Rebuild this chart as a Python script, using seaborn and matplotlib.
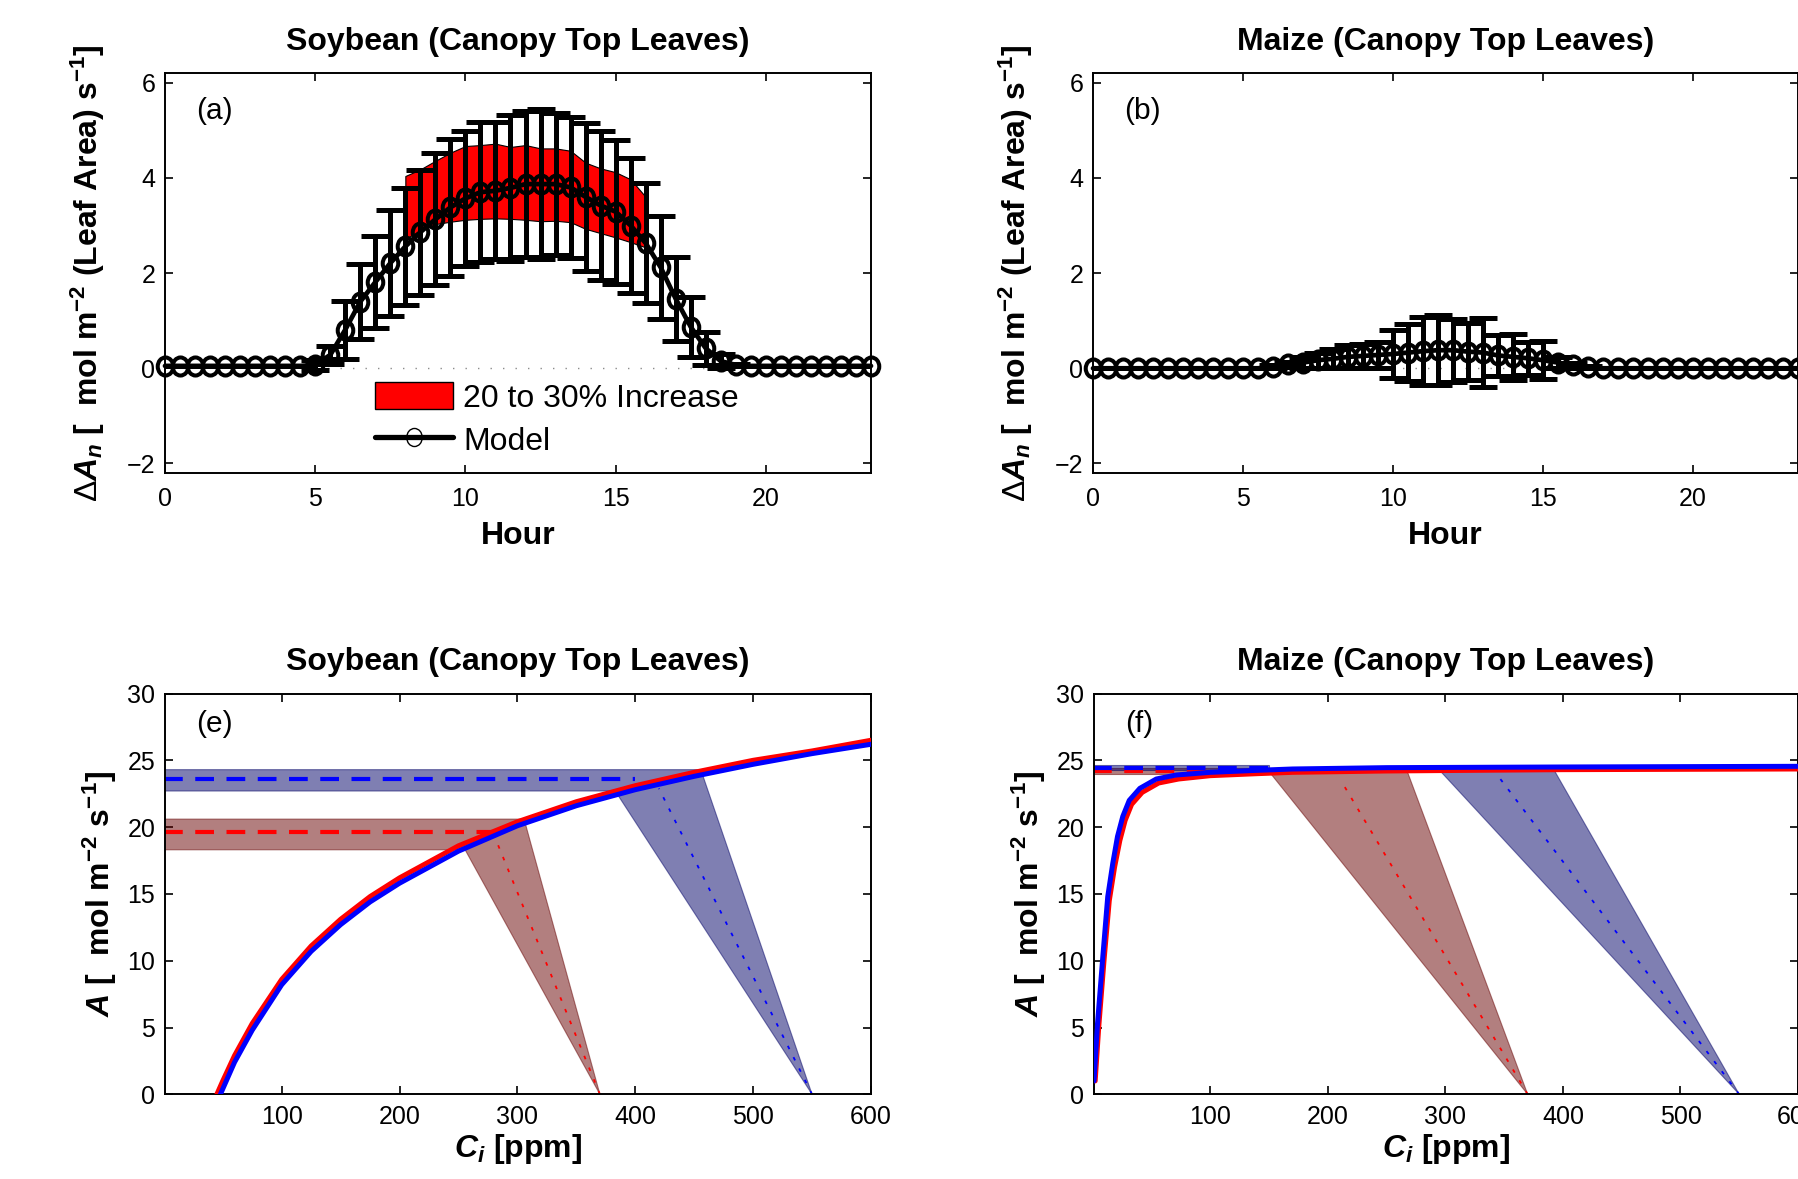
import numpy as np
import matplotlib
matplotlib.use("Agg")
import matplotlib.pyplot as plt
import seaborn as sns
from matplotlib.path import Path
from matplotlib.transforms import Affine2D
from matplotlib.patches import Patch
from matplotlib.lines import Line2D

# ---------------- data ----------------
hours = np.arange(0, 24, 0.5)

soy_model = [0.05] * 10 + [0.07, 0.28, 0.81, 1.40, 1.81, 2.21, 2.56, 2.86, 3.13, 3.38,
                           3.57, 3.70, 3.73, 3.79, 3.87, 3.87, 3.87, 3.80, 3.60, 3.42,
                           3.29, 3.00, 2.63, 2.12, 1.46, 0.87, 0.42, 0.15, 0.07] + [0.05] * 9
soy_err = [0.0] * 10 + [0.10, 0.18, 0.61, 0.79, 0.97, 1.12, 1.23, 1.31, 1.39, 1.44,
                        1.42, 1.47, 1.44, 1.54, 1.53, 1.57, 1.50, 1.48, 1.56, 1.57,
                        1.51, 1.41, 1.26, 1.08, 0.88, 0.63, 0.35, 0.15, 0.03] + [0.0] * 9

band_hours = [8.0, 8.5, 9.0, 9.5, 10.0, 10.5, 11.0, 11.5, 12.0, 12.5, 13.0, 13.5,
              14.0, 14.5, 15.0, 15.5, 16.0]
band_hi = [4.04, 4.18, 4.36, 4.53, 4.67, 4.69, 4.72, 4.65, 4.69, 4.62, 4.62, 4.57,
           4.32, 4.20, 4.12, 3.97, 3.60]
band_lo = [2.72, 2.90, 3.03, 3.08, 3.12, 3.14, 3.15, 3.14, 3.12, 3.09, 3.10, 3.07,
           2.93, 2.84, 2.75, 2.65, 2.54]

maize_model = [0.0] * 12 + [0.03, 0.08, 0.12, 0.17, 0.20, 0.24, 0.26, 0.28, 0.30, 0.33,
                            0.36, 0.38, 0.38, 0.35, 0.33, 0.27, 0.24, 0.21, 0.17, 0.12,
                            0.06, 0.03] + [0.0] * 14
maize_err = [0.0] * 12 + [0.03, 0.06, 0.12, 0.16, 0.20, 0.24, 0.26, 0.28, 0.51, 0.60,
                          0.72, 0.73, 0.66, 0.60, 0.72, 0.43, 0.48, 0.35, 0.40, 0.12,
                          0.05, 0.02] + [0.0] * 14

soy_zero_line = [5.0, 18.5]
maize_zero_line = [9.9, 15.1]

soy_ci_red = [45, 50, 60, 75, 100, 125, 150, 175, 200, 250, 300, 350, 400, 450, 500, 550, 600]
soy_A_red = [0.0, 1.0, 2.9, 5.3, 8.6, 11.1, 13.1, 14.8, 16.2, 18.6, 20.4, 21.9, 23.1, 24.1, 25.0, 25.7, 26.5]
soy_ci_blue = [48, 50, 60, 75, 100, 125, 150, 175, 200, 250, 300, 350, 400, 450, 500, 550, 600]
soy_A_blue = [0.0, 0.4, 2.4, 4.8, 8.2, 10.7, 12.7, 14.4, 15.8, 18.2, 20.1, 21.6, 22.8, 23.8, 24.7, 25.5, 26.2]

soy_red_band_x = [0, 0, 304, 250]
soy_red_band_y = [18.3, 20.6, 20.6, 18.3]
soy_blue_band_x = [0, 0, 458, 384]
soy_blue_band_y = [22.7, 24.3, 24.3, 22.7]
soy_red_tri_x = [370, 255, 306]
soy_red_tri_y = [0, 18.4, 20.5]
soy_blue_tri_x = [550, 383, 456]
soy_blue_tri_y = [0, 22.7, 24.2]
soy_red_dash_x, soy_red_dash_y = [0, 280], [19.6, 19.6]
soy_blue_dash_x, soy_blue_dash_y = [0, 400], [23.6, 23.6]
soy_red_dot_x, soy_red_dot_y = [370, 282], [0, 19.0]
soy_blue_dot_x, soy_blue_dot_y = [550, 420], [0, 22.9]

maize_ci_blue = [1, 4, 8.5, 12.7, 17, 21, 25.5, 31, 40, 54, 71, 100, 140, 170, 250, 400, 600]
maize_A_blue = [1.0, 5.3, 10.3, 14.8, 17.3, 19.3, 20.8, 22.0, 22.9, 23.6, 23.9, 24.1, 24.25, 24.35, 24.45, 24.5, 24.55]
maize_ci_red = [2, 5, 9.5, 14, 18.5, 23, 27.5, 33, 42, 56, 73, 100, 140, 170, 250, 400, 600]
maize_A_red = [1.0, 5.0, 10.0, 14.5, 17.0, 19.0, 20.5, 21.7, 22.6, 23.3, 23.6, 23.85, 24.0, 24.1, 24.2, 24.3, 24.35]

maize_red_band_x = [0, 0, 150, 150]
maize_red_band_y = [24.0, 24.4, 24.4, 24.0]
maize_blue_band_x = [0, 0, 150, 150]
maize_blue_band_y = [24.25, 24.65, 24.65, 24.25]
maize_red_tri_x = [370, 150, 267]
maize_red_tri_y = [0, 24.15, 24.3]
maize_blue_tri_x = [550, 294, 391]
maize_blue_tri_y = [0, 24.35, 24.5]
maize_red_dash_x, maize_red_dash_y = [0, 150], [24.2, 24.2]
maize_blue_dash_x, maize_blue_dash_y = [0, 150], [24.45, 24.45]
maize_red_dot_x, maize_red_dot_y = [370, 211], [0, 23.5]
maize_blue_dot_x, maize_blue_dot_y = [550, 345], [0, 23.8]

hour_ticks = [0, 5, 10, 15, 20]
an_ticks = [-2, 0, 2, 4, 6]
ci_ticks = [100, 200, 300, 400, 500, 600]
a_ticks = [0, 5, 10, 15, 20, 25, 30]

# ---------------- style ----------------
sns.set_theme(style="ticks")
plt.rcParams["font.family"] = ["Liberation Sans", "DejaVu Sans"]
plt.rcParams["mathtext.fontset"] = "custom"
plt.rcParams["mathtext.rm"] = "Liberation Sans"
plt.rcParams["mathtext.it"] = "Liberation Sans:italic:bold"
plt.rcParams["mathtext.bf"] = "Liberation Sans:bold"
plt.rcParams["axes.edgecolor"] = "black"
plt.rcParams["axes.labelcolor"] = "black"
plt.rcParams["text.color"] = "black"
plt.rcParams["axes.titlecolor"] = "black"
plt.rcParams["axes.linewidth"] = 1.4
plt.rcParams["xtick.color"] = "black"
plt.rcParams["ytick.color"] = "black"

TICK_FS = 18
LAB_FS = 23
TITLE_FS = 23

ell = Path.unit_circle().transformed(Affine2D().scale(0.86, 1.0))

RED_FILL = (0.40, 0.0, 0.0)
BLUE_FILL = (0.0, 0.0, 0.40)

fig = plt.figure(figsize=(17.99, 11.79), dpi=100)
W, H = 1799.0, 1179.0


def px_axes(x0, x1, ytop, ybot):
    return fig.add_axes([x0 / W, 1 - ybot / H, (x1 - x0) / W, (ybot - ytop) / H])


ax_a = px_axes(165, 871, 73.2, 473.0)
ax_b = px_axes(1093, 1798, 73.2, 473.0)
ax_e = px_axes(165, 871, 693.5, 1094.3)
ax_f = px_axes(1094, 1798, 693.5, 1094.3)

an_label = (r"$\Delta\mathit{A}_{\mathit{n}}$ [  mol m$^{\mathbf{-2}}$ "
            r"(Leaf Area) s$^{\mathbf{-1}}$]")
a_label = r"$\mathit{A}$ [  mol m$^{\mathbf{-2}}$ s$^{\mathbf{-1}}$]"
ci_label = r"$\mathit{C}_{\mathit{i}}$ [ppm]"


def style_axes(ax, xpad):
    ax.tick_params(direction="in", top=True, right=True, length=6, width=1.2,
                   labelsize=TICK_FS, colors="black")
    ax.tick_params(axis="x", pad=xpad)
    ax.tick_params(axis="y", pad=7)
    for s in ax.spines.values():
        s.set_visible(True)
        s.set_color("black")
        s.set_linewidth(1.4)


def hour_panel(ax, model, err, zero_line, title, tag):
    ax.plot(zero_line, [0, 0], color="0.55", lw=1.0, ls=(0, (1, 8)), zorder=1)
    ax.errorbar(hours, model, yerr=err, fmt="none", ecolor="black", elinewidth=3.6,
                capsize=10, capthick=3.6, zorder=3)
    ax.plot(hours, model, color="black", lw=3.4, marker=ell, ms=13, mfc="none",
            mec="black", mew=2.9, zorder=4, clip_on=False)
    ax.set_xlim(0, 23.5)
    ax.set_ylim(-2.2, 6.2)
    ax.set_xticks(hour_ticks)
    ax.set_yticks(an_ticks)
    ax.set_xticklabels([str(v) for v in hour_ticks])
    ax.set_yticklabels(["\u22122" if v < 0 else str(v) for v in an_ticks])
    ax.set_xlabel("Hour", fontsize=LAB_FS, fontweight="bold", labelpad=7)
    ax.set_ylabel(an_label, fontsize=LAB_FS, fontweight="bold", labelpad=14)
    ax.set_title(title, fontsize=TITLE_FS, fontweight="bold", pad=17)
    ax.text(0.044, 0.906, tag, transform=ax.transAxes, fontsize=21.5,
            ha="left", va="center")
    style_axes(ax, 10)


def ci_panel(ax, d, title, tag):
    ax.fill(d["rbx"], d["rby"], facecolor=RED_FILL, edgecolor=RED_FILL, alpha=0.5, lw=0.8, zorder=1)
    ax.fill(d["bbx"], d["bby"], facecolor=BLUE_FILL, edgecolor=BLUE_FILL, alpha=0.5, lw=0.8, zorder=1)
    ax.fill(d["rtx"], d["rty"], facecolor=RED_FILL, edgecolor=RED_FILL, alpha=0.5, lw=0.8, zorder=1)
    ax.fill(d["btx"], d["bty"], facecolor=BLUE_FILL, edgecolor=BLUE_FILL, alpha=0.5, lw=0.8, zorder=1)
    ax.plot(d["rdotx"], d["rdoty"], color="red", lw=1.3, ls=(0, (2, 5)), zorder=2)
    ax.plot(d["bdotx"], d["bdoty"], color="blue", lw=1.3, ls=(0, (2, 5)), zorder=2)
    ax.plot(d["rdx"], d["rdy"], color="red", lw=3, ls=(0, (4.5, 3)), zorder=2)
    ax.plot(d["bdx"], d["bdy"], color="blue", lw=3, ls=(0, (4.5, 3)), zorder=2)
    sns.lineplot(x=d["rcx"], y=d["rcy"], color="red", lw=3.6, ax=ax, sort=False,
                 estimator=None, zorder=3)
    sns.lineplot(x=d["bcx"], y=d["bcy"], color="blue", lw=3.6, ax=ax, sort=False,
                 estimator=None, zorder=3)
    ax.set_xlim(1, 600)
    ax.set_ylim(0, 30)
    ax.set_xticks(ci_ticks)
    ax.set_yticks(a_ticks)
    ax.set_xticklabels([str(v) for v in ci_ticks])
    ax.set_yticklabels([str(v) for v in a_ticks])
    ax.set_xlabel(ci_label, fontsize=LAB_FS, fontweight="bold", labelpad=2)
    ax.set_ylabel(a_label, fontsize=LAB_FS, fontweight="bold", labelpad=6)
    ax.set_title(title, fontsize=TITLE_FS, fontweight="bold", pad=17)
    ax.text(0.044, 0.925, tag, transform=ax.transAxes, fontsize=21.5,
            ha="left", va="center")
    style_axes(ax, 8)


# ---------------- panels ----------------
ax_a.fill_between(band_hours, band_lo, band_hi, facecolor="red", edgecolor="black",
                  lw=0.8, zorder=2)
hour_panel(ax_a, soy_model, soy_err, soy_zero_line, "Soybean (Canopy Top Leaves)", "(a)")
hour_panel(ax_b, maize_model, maize_err, maize_zero_line, "Maize (Canopy Top Leaves)", "(b)")

leg_handles = [Patch(facecolor="red", edgecolor="black", lw=1.0),
               Line2D([0], [0], color="black", lw=3.8, marker=ell, ms=13, mfc="none",
                      mec="black", mew=1.0)]
ax_a.legend(leg_handles, ["20 to 30% Increase", "Model"], loc="upper left",
            bbox_to_anchor=(0.2975, 0.228), frameon=False, fontsize=23,
            handlelength=2.45, handleheight=0.95, handletextpad=0.3,
            labelspacing=0.36, borderpad=0, borderaxespad=0)

soy_d = dict(rbx=soy_red_band_x, rby=soy_red_band_y, bbx=soy_blue_band_x, bby=soy_blue_band_y,
             rtx=soy_red_tri_x, rty=soy_red_tri_y, btx=soy_blue_tri_x, bty=soy_blue_tri_y,
             rdotx=soy_red_dot_x, rdoty=soy_red_dot_y, bdotx=soy_blue_dot_x, bdoty=soy_blue_dot_y,
             rdx=soy_red_dash_x, rdy=soy_red_dash_y, bdx=soy_blue_dash_x, bdy=soy_blue_dash_y,
             rcx=soy_ci_red, rcy=soy_A_red, bcx=soy_ci_blue, bcy=soy_A_blue)
maize_d = dict(rbx=maize_red_band_x, rby=maize_red_band_y, bbx=maize_blue_band_x, bby=maize_blue_band_y,
               rtx=maize_red_tri_x, rty=maize_red_tri_y, btx=maize_blue_tri_x, bty=maize_blue_tri_y,
               rdotx=maize_red_dot_x, rdoty=maize_red_dot_y, bdotx=maize_blue_dot_x, bdoty=maize_blue_dot_y,
               rdx=maize_red_dash_x, rdy=maize_red_dash_y, bdx=maize_blue_dash_x, bdy=maize_blue_dash_y,
               rcx=maize_ci_red, rcy=maize_A_red, bcx=maize_ci_blue, bcy=maize_A_blue)

ci_panel(ax_e, soy_d, "Soybean (Canopy Top Leaves)", "(e)")
ci_panel(ax_f, maize_d, "Maize (Canopy Top Leaves)", "(f)")

fig.savefig("out.png", dpi=100, facecolor="white")
